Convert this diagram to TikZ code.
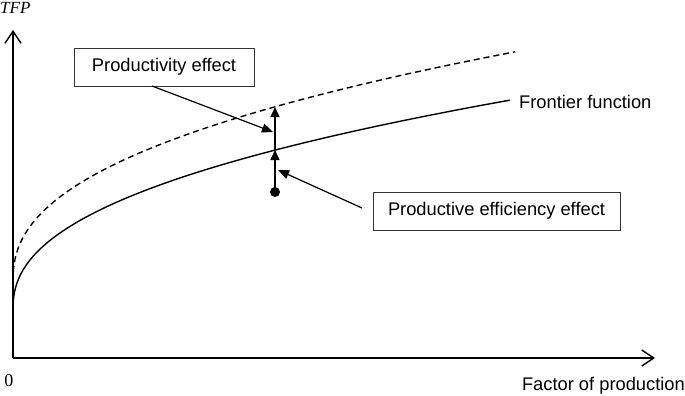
\documentclass[tikz,border=0pt]{standalone}
\usepackage{fontspec}
\setmainfont{Liberation Sans}
\newfontfamily\serifit{Liberation Serif}
\usetikzlibrary{arrows.meta}
\begin{document}
\begin{tikzpicture}[x=1pt,y=-1pt,
  axis/.style={line width=1.4pt,-{Straight Barb[length=12pt,width=16pt,line width=1.4pt]}},
  curve/.style={line width=1.4pt},
  effbox/.style={draw=black!80,line width=0.8pt,minimum height=38pt,inner sep=0pt,font=\fontsize{18.3}{21}\selectfont},
  lbl/.style={font=\fontsize{18.3}{21}\selectfont,inner sep=0pt},
  tip/.style={-{Triangle[length=10pt,width=9pt]}},
  lead/.style={line width=1.2pt,-{Triangle[length=11pt,width=9pt]}}]
\useasboundingbox (0,0) rectangle (685,396);
% axes
\coordinate (O) at (13,358);
\coordinate (ytop) at (13,30);
\coordinate (xend) at (655,358);
\draw[axis] (O) -- (ytop);
\draw[axis] (O) -- (xend);
\node[font=\serifit\itshape\fontsize{17}{19}\selectfont,anchor=north west,inner sep=0pt] (tfp) at (0,2) {TFP};
\node[font=\serifit\fontsize{18}{20}\selectfont,anchor=center,inner sep=0pt] (zero) at (9,381) {0};
\node[lbl,anchor=east] (fop) at (685,386) {Factor of production};
% frontier (solid) and shifted frontier (dashed)
\draw[curve] (13,310) -- plot[domain=0.05:7.92,samples=120,smooth] ({13+(\x)^3},{310-15*(\x)^1.275});
\draw[curve,dash pattern=on 6pt off 4pt] (13,282) -- plot[domain=0.05:7.95,samples=120,smooth] ({13+(\x)^3},{282-16.9*(\x)^1.26});
\node[lbl,anchor=west] (ff) at (519,102) {Frontier function};
% vertical arrows
\node[circle,fill=black,inner sep=0pt,minimum size=10pt] (dot) at (275,192) {};
\coordinate (s) at (275,150);
\coordinate (d) at (275,107);
\draw[line width=1.4pt,tip] (dot.center) -- (s);
\draw[line width=1.4pt,tip] (s) -- (d);
% boxes
\node[effbox,minimum width=180pt] (pe) at (164,67) {Productivity effect};
\node[effbox,minimum width=247pt] (pee) at (496.5,211) {Productive efficiency effect};
\coordinate (pt1) at (273,132);
\coordinate (pe0) at (152,86);
\draw[lead] (pe0) -- (pt1);
\coordinate (pee0) at (362,208);
\coordinate (pt2) at (278,170);
\draw[lead] (pee0) -- (pt2);
\end{tikzpicture}
\end{document}
